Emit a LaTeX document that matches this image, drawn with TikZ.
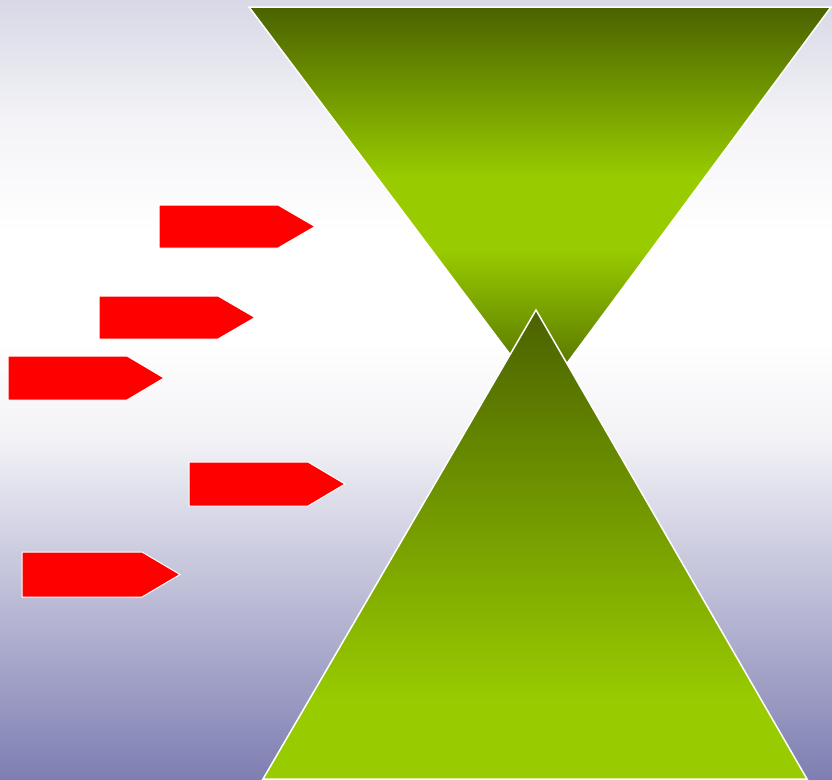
\documentclass[tikz,border=0pt]{standalone}
\definecolor{bgtop}{RGB}{216,216,230}
\definecolor{bgupper}{RGB}{244,244,248}
\definecolor{bgmid}{RGB}{243,243,247}
\definecolor{bgbot}{RGB}{126,126,178}
\definecolor{olivedark}{RGB}{74,98,0}
\definecolor{olivebright}{RGB}{153,204,0}
\pgfdeclareverticalshading{bgshade}{100bp}{color(0bp)=(bgbot); color(25bp)=(bgbot); color(47bp)=(bgmid); color(53bp)=(white); color(60bp)=(white); color(67bp)=(bgupper); color(75bp)=(bgtop); color(100bp)=(bgtop)}
\pgfdeclareverticalshading{topshade}{100bp}{color(0bp)=(olivedark); color(25bp)=(olivedark); color(44bp)=(olivebright); color(53bp)=(olivebright); color(75bp)=(olivedark); color(100bp)=(olivedark)}
\pgfdeclareverticalshading{botshade}{100bp}{color(0bp)=(olivebright); color(25bp)=(olivebright); color(33bp)=(olivebright); color(75bp)=(olivedark); color(100bp)=(olivedark)}
\tikzset{
  tri/.style={draw=white, line width=1.5pt, line join=miter},
  tag/.style={draw=white, line width=1pt, fill=red},
}
\begin{document}
\begin{tikzpicture}[x=1pt,y=1pt]
\useasboundingbox (0,0) rectangle (832,-779);
\shade[shading=bgshade] (0,0) rectangle (832,-779);
% upper inverted triangle
\shade[tri, shading=topshade] (249,-7) -- (831,-7) -- (542,-397) -- cycle;
% lower triangle
\shade[tri, shading=botshade] (536,-310) -- (807,-779) -- (263,-779) -- cycle;
% red pentagon arrows
\draw[tag] (159,-205) -- (278,-205) -- (315,-226.5) -- (278,-248) -- (159,-248) -- cycle;
\draw[tag] (99,-296) -- (218,-296) -- (255,-317.5) -- (218,-339) -- (99,-339) -- cycle;
\draw[tag] (8,-356) -- (127,-356) -- (164,-378) -- (127,-400) -- (8,-400) -- cycle;
\draw[tag] (189,-462) -- (308,-462) -- (345,-484) -- (308,-506) -- (189,-506) -- cycle;
\draw[tag] (22,-552) -- (142,-552) -- (180,-574.5) -- (142,-597) -- (22,-597) -- cycle;
\end{tikzpicture}
\end{document}
